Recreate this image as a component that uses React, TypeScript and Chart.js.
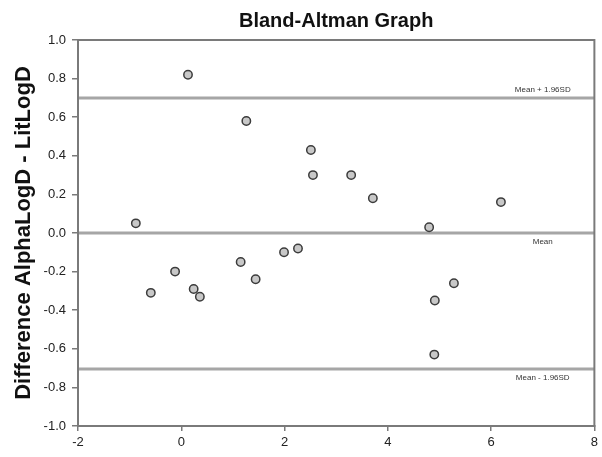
import React, { useEffect, useRef } from "react";
import { Chart, registerables } from "chart.js";

Chart.register(...registerables);

const meanX: number[] = [0.13, 1.26, 2.51, 2.55, 3.29, 3.71, 4.8, 6.19, -0.88, -0.59, -0.12, 0.24, 0.36, 1.15, 1.44, 1.99, 2.26, 5.28, 4.91, 4.9];
const diffY: number[] = [0.82, 0.58, 0.43, 0.3, 0.3, 0.18, 0.03, 0.16, 0.05, -0.31, -0.2, -0.29, -0.33, -0.15, -0.24, -0.1, -0.08, -0.26, -0.35, -0.63];
const lineSpan: number[] = [-2, 8];
const meanDiff = 0;
const upperLoA = 0.7;
const lowerLoA = -0.705;
const lineLabels: string[] = ["Mean + 1.96SD", "Mean", "Mean - 1.96SD"];
const labelX = 7.0;

const FONT = "'Liberation Sans', Arial, sans-serif";

export default function App() {
  const ref = useRef<HTMLCanvasElement | null>(null);
  useEffect(() => {
    if (!ref.current) return;
    const framePlugin = {
      id: "frame",
      afterDatasetsDraw(chart: any) {
        const { ctx, chartArea: a, scales } = chart;
        ctx.save();
        ctx.strokeStyle = "#7a7a7a";
        ctx.lineWidth = 2;
        ctx.strokeRect(a.left, a.top, a.right - a.left, a.bottom - a.top);
        ctx.fillStyle = "#333";
        ctx.font = `8px ${FONT}`;
        ctx.textAlign = "center";
        ctx.textBaseline = "middle";
        const lx = scales.x.getPixelForValue(labelX);
        ctx.fillText(lineLabels[0], lx, scales.y.getPixelForValue(upperLoA) - 8);
        ctx.fillText(lineLabels[1], lx, scales.y.getPixelForValue(meanDiff) + 9);
        ctx.fillText(lineLabels[2], lx, scales.y.getPixelForValue(lowerLoA) + 9);
        ctx.restore();
      },
    };
    const hline = (v: number) => ({
      type: "line" as const,
      data: lineSpan.map((x) => ({ x, y: v })),
      borderColor: "#a6a6a6",
      borderWidth: 3,
      pointRadius: 0,
      fill: false,
      order: 2,
    });
    const chart = new Chart(ref.current, {
      type: "scatter",
      data: {
        datasets: [
          hline(upperLoA),
          hline(meanDiff),
          hline(lowerLoA),
          {
            type: "scatter",
            data: meanX.map((x, i) => ({ x, y: diffY[i] })),
            backgroundColor: "#c8c8c8",
            borderColor: "#3c3c3c",
            borderWidth: 1.5,
            pointRadius: 4.2,
            order: 1,
          } as any,
        ],
      },
      options: {
        animation: false,
        responsive: false,
        layout: { padding: { left: 0, right: 5, top: 0, bottom: 0 } },
        plugins: {
          legend: { display: false },
          tooltip: { enabled: false },
          title: {
            display: true,
            fullSize: false,
            text: "Bland-Altman Graph",
            color: "#111",
            font: { family: FONT, size: 20, weight: "bold" },
            padding: { top: 9, bottom: 7 },
          },
        },
        scales: {
          x: {
            type: "linear",
            min: -2,
            max: 8,
            ticks: { stepSize: 2, color: "#222", font: { family: FONT, size: 13 }, padding: 4, maxRotation: 0 },
            grid: { drawOnChartArea: false, drawTicks: true, tickLength: 5, color: "#7a7a7a", lineWidth: 1.5 },
            border: { display: true, color: "#7a7a7a", width: 2 },
            afterFit(scale: any) {
              scale.height = 31;
            },
          },
          y: {
            type: "linear",
            min: -1,
            max: 1,
            ticks: {
              stepSize: 0.2,
              color: "#222",
              font: { family: FONT, size: 13 },
              padding: 6,
              callback: (v: any) => Number(v).toFixed(1),
            },
            grid: { drawOnChartArea: false, drawTicks: true, tickLength: 6, color: "#7a7a7a", lineWidth: 1.5 },
            border: { display: true, color: "#7a7a7a", width: 2 },
            title: {
              display: true,
              text: "Difference AlphaLogD - LitLogD",
              color: "#111",
              font: { family: FONT, size: 22, weight: "bold" },
              padding: { top: 11, bottom: 0 },
            },
            afterFit(scale: any) {
              scale.width = 78;
            },
          },
        },
      } as any,
      plugins: [framePlugin],
    });
    return () => chart.destroy();
  }, []);
  return (
    <div style={{ position: "fixed", left: 0, top: 0, width: 602, height: 457, background: "#fff" }}>
      <canvas ref={ref} width={602} height={457} />
    </div>
  );
}
